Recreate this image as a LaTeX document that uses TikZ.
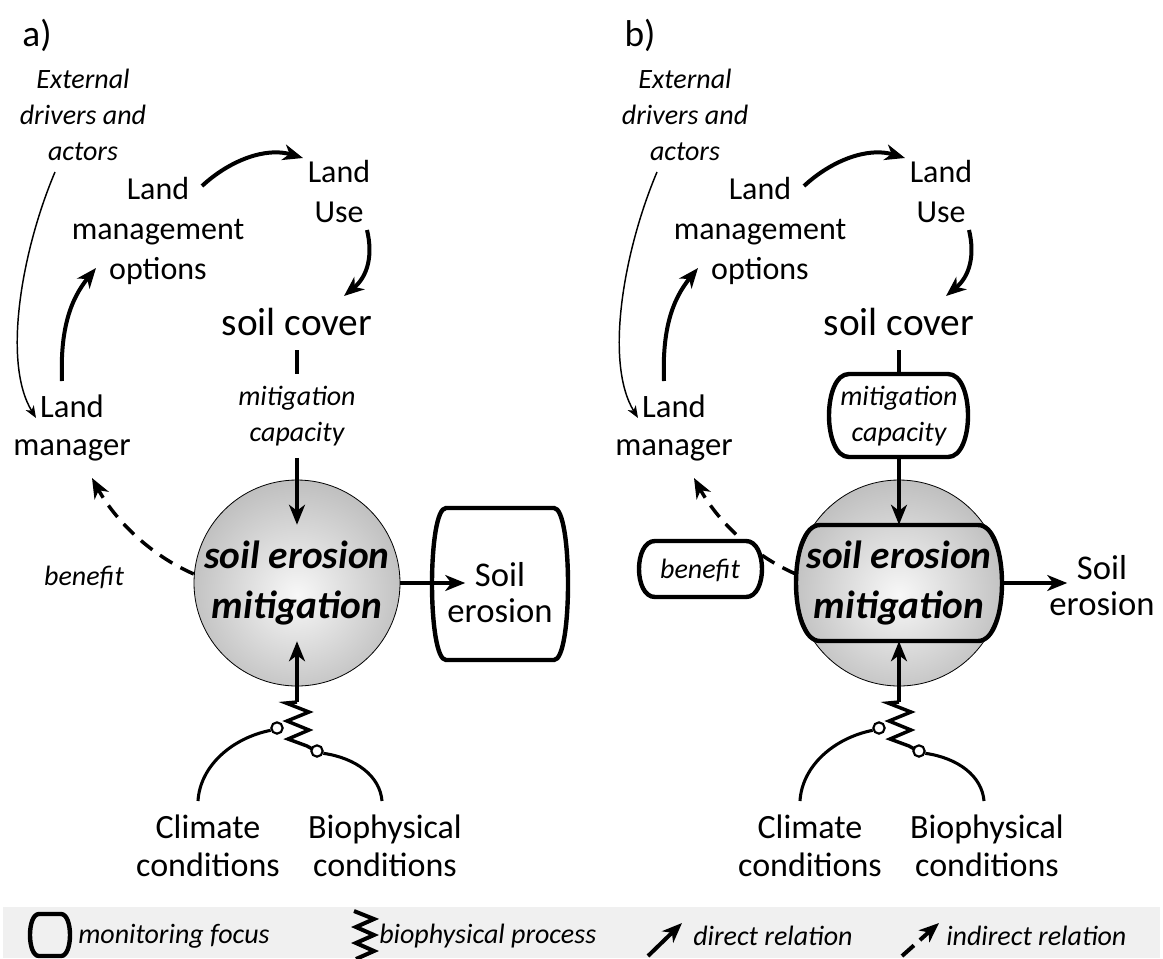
\documentclass[tikz,border=0pt]{standalone}
\usepackage{fontspec}
\setmainfont{Carlito}
\usetikzlibrary{arrows.meta}

% soft grey sphere for the central process
\pgfdeclareradialshading{orbshade}{\pgfpoint{0bp}{-3bp}}{%
  color(0bp)=(black!3); color(50bp)=(black!44); color(75bp)=(black!44)}

% rounded box with slightly bulging sides: [style]{x1}{y1}{x2}{y2}{corner inset}
\newcommand\barrel[6][]{%
  \draw[#1] ({#2+#6},#3) -- ({#4-#6},#3)
    .. controls ({#4+#6/3},#3) and ({#4+#6/3},#5) .. ({#4-#6},#5)
    -- ({#2+#6},#5)
    .. controls ({#2-#6/3},#5) and ({#2-#6/3},#3) .. ({#2+#6},#3) -- cycle;}

\tikzset{
  every node/.style={inner sep=0pt, align=center},
  lbl/.style={font=\fontsize{24}{30}\selectfont},
  lblt/.style={font=\fontsize{24.5}{28}\selectfont},
  lblb/.style={font=\fontsize{25.5}{28.5}\selectfont},
  lblse/.style={font=\fontsize{26}{27}\selectfont},
  note/.style={font=\fontsize{21}{27}\selectfont\itshape},
  big/.style={font=\fontsize{29.5}{36}\selectfont},
  core/.style={font=\fontsize{29.5}{37.5}\selectfont\bfseries\itshape,
    minimum width=154.5pt, minimum height=87pt},
  tag/.style={font=\fontsize{28}{32}\selectfont},
  legtext/.style={font=\fontsize{21}{24}\selectfont\itshape, anchor=west},
  orb/.style={circle, minimum size=154.5pt, draw, line width=0.6pt, shade, shading=orbshade},
  tip/.style={-{Stealth[length=15pt,width=12pt,inset=4.5pt]}},
  rel/.style={line width=2.3pt, tip},
  relthick/.style={line width=3pt, tip},
  extern/.style={line width=1.1pt, -{Stealth[length=9pt,width=7pt,inset=2.5pt]}},
  indirect/.style={line width=2.6pt, dash pattern=on 11pt off 7pt, tip},
  focus/.style={line width=3.3pt, line join=round},
  pin/.style={circle, draw, line width=1.6pt, fill=white, minimum size=8.5pt},
  spring/.style={line width=2.6pt, line join=miter},
  arcline/.style={line width=2.3pt},
  stub/.style={line width=3pt},
}

% elements shared by both panels
\newcommand\panelbody{%
  \node[note] (ext) at (83,115) {External\\drivers and\\actors};
  \node[lbl] (lmo) at (158,231) {Land\\management\\options};
  \node[lbl] (lu) at (339,191) {Land\\Use};
  \node[big] (sc) at (297,322) {soil cover};
  \node[lblt] (mgr) at (72,428) {Land\\manager};
  \node[lblb] (clim) at (208,846) {Climate\\conditions};
  \node[lblb] (bio) at (385,846) {Biophysical\\conditions};
  \node[orb] (orb) at (297,583) {};
  \node[core] (core) at (297,583) {soil erosion\\mitigation};
  \node[note, minimum width=104.25pt, minimum height=62.25pt] (cap) at (297,416) {mitigation\\capacity};
  \coordinate (ext-out) at (55,172);
  \coordinate (mgr-in) at (36,418);
  \coordinate (mgr-out) at (62,381);
  \coordinate (lmo-in) at (96,268);
  \coordinate (lmo-out) at (202,186);
  \coordinate (lu-in) at (303,158);
  \coordinate (lu-out) at (367,230);
  \coordinate (sc-in) at (344,296);
  \coordinate (mgr-back) at (92,478);
  \coordinate (sp) at (297,702);
  \coordinate (clim-in) at (198,801);
  \coordinate (bio-in) at (382,801);
  \draw[extern] (ext-out) .. controls (22,250) and (2,362) .. (mgr-in);
  \draw[relthick] (mgr-out) .. controls (60,330) and (70,300) .. (lmo-in);
  \draw[relthick] (lmo-out) .. controls (230,160) and (266,147) .. (lu-in);
  \draw[relthick] (lu-out) .. controls (373,255) and (368,276) .. (sc-in);
  \draw[stub, shorten <=10.5pt] (sc.south) -- (cap.north);
  \draw[rel] (cap.south) -- (core.north);
  \draw[indirect] (core.175) .. controls (150,555) and (115,520) .. (mgr-back);
  \draw[rel] (sp) -- (core.south);
  \draw[spring] (sp) -- (286,703) -- (309,712) -- (287,721) -- (309,730)
    -- (288,739) -- (307,746) -- (316,751);
  \node[pin] (pl) at (277,728) {};
  \node[pin] (pr) at (317,751) {};
  \draw[arcline] (pl.200) .. controls (232,738) and (200,766) .. (clim-in);
  \draw[arcline] (pr.340) .. controls (356,758) and (380,776) .. (bio-in);
}

\begin{document}
\begin{tikzpicture}[x=0.75pt,y=-0.75pt]
\useasboundingbox (0,0) rectangle (1163,958);

% panel a
\begin{scope}[name prefix=a-]
  \panelbody
  \node[tag] (tag) at (37,35) {a)};
  \node[note] (ben) at (84,577) {benefit};
  \barrel[focus]{432}{508}{568}{660}{14}
  \node[lblse] (se) at (500,593) {Soil\\erosion};
  \draw[rel, shorten >=-13.5pt] (core.east) -- (core.east -| se.west);
\end{scope}

% panel b
\begin{scope}[shift={(602,0)}, name prefix=b-]
  \panelbody
  \node[tag] (tag) at (38,35) {b)};
  \barrel[focus, fill=white]{37}{541}{160}{597}{16}
  \node[note] (ben) at (98,570) {benefit};
  \barrel[focus]{227}{374}{366}{457}{20}
  \barrel[focus]{194}{525}{400}{641}{24}
  \node[lblse] (se) at (500,586) {Soil\\erosion};
  \draw[rel, shorten >=-13.5pt] (core.east) -- (core.east -| se.west);
\end{scope}

% legend
\fill[black!6] (3,907) rectangle (1160,958);
\barrel[line width=3.3pt, line join=round]{30}{914}{70}{956}{9}
\node[legtext] (lg-focus) at (78,936) {monitoring focus};
\draw[line width=3pt, line join=miter] (354,911) -- (374,919) -- (356,927) -- (374,935)
  -- (356,943) -- (374,951) -- (356,959);
\node[legtext] (lg-proc) at (379,936) {biophysical process};
\coordinate (lg-d0) at (648,956);
\coordinate (lg-d1) at (682,923);
\draw[line width=3pt, tip] (lg-d0) -- (lg-d1);
\node[legtext] (lg-dir) at (693,936) {direct relation};
\coordinate (lg-i0) at (902,956);
\coordinate (lg-i1) at (939,923);
\draw[line width=3pt, dash pattern=on 12pt off 6pt, tip] (lg-i0) -- (lg-i1);
\node[legtext] (lg-ind) at (946,936) {indirect relation};
\end{tikzpicture}
\end{document}
